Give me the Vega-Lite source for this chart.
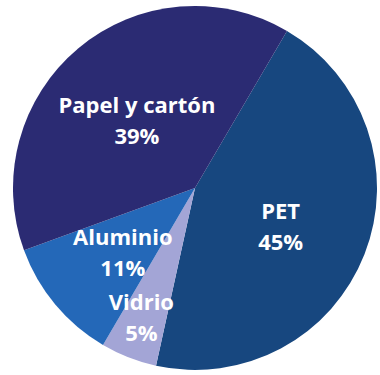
{
  "$schema": "https://vega.github.io/schema/vega-lite/v6.json",
  "width": 380,
  "height": 375,
  "autosize": {"type": "fit", "contains": "padding"},
  "padding": {"left": 10, "right": 0, "top": 1, "bottom": 0},
  "background": "white",
  "view": {"stroke": null},
  "data": {
    "values": [
      {"material": "PET", "pct": 45},
      {"material": "Vidrio", "pct": 5},
      {"material": "Aluminio", "pct": 11},
      {"material": "Papel y cartón", "pct": 39}
    ]
  },
  "transform": [
    {"window": [{"op": "row_number", "as": "idx"}]},
    {"calculate": "datum.material + '\\n' + datum.pct + '%'", "as": "label"}
  ],
  "encoding": {
    "theta": {"field": "pct", "type": "quantitative", "stack": true, "scale": {"range": [0.53, 6.8132]}},
    "order": {"field": "idx", "type": "quantitative"}
  },
  "layer": [
    {
      "mark": {"type": "arc", "outerRadius": 182},
      "encoding": {
        "color": {
          "field": "material",
          "type": "nominal",
          "legend": null,
          "scale": {
            "domain": ["PET", "Vidrio", "Aluminio", "Papel y cartón"],
            "range": ["#17477f", "#a3a5d6", "#2468b8", "#2b2b73"]
          }
        }
      }
    },
    {
      "mark": {
        "type": "text",
        "font": "Open Sans",
        "fontWeight": "bold",
        "fontSize": 22,
        "lineHeight": 31,
        "lineBreak": "\n",
        "align": "center",
        "baseline": "middle",
        "color": "white",
        "radius": {"expr": "datum.material === 'PET' ? 92 : datum.material === 'Vidrio' ? 139 : datum.material === 'Aluminio' ? 94 : 111"},
        "dx": {"expr": "datum.material === 'Papel y cartón' ? 13 : datum.material === 'Vidrio' ? -3 : 0"},
        "dy": {"expr": "datum.material === 'Papel y cartón' ? 3 : datum.material === 'Vidrio' ? -14 : -10"}
      },
      "encoding": {
        "detail": {"field": "material", "type": "nominal"},
        "text": {"field": "label", "type": "nominal"}
      }
    }
  ]
}
